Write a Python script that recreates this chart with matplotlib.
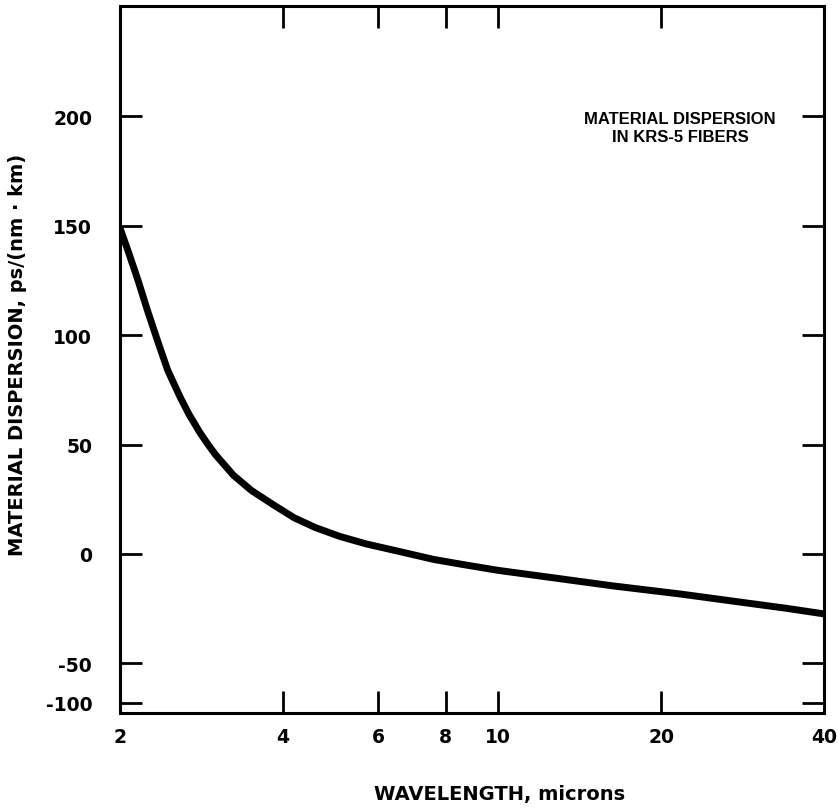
import matplotlib.pyplot as plt
from matplotlib.ticker import FixedLocator, FixedFormatter, NullLocator

# readings
wavelength = [2.0, 2.08, 2.16, 2.25, 2.35, 2.45, 2.58, 2.68, 2.81, 2.9, 3.0, 3.24, 3.5, 3.84, 4.2, 4.6, 5.1,
              5.7, 6.6, 7.6, 8.5, 10.0, 12.3, 16.3, 21.7, 28.0, 34.0, 40.0]
dispersion = [149, 137, 125, 111, 97, 84, 72, 64, 55.5, 50.5, 45.5, 36, 29, 22.5, 16.5, 12, 8,
              4.6, 1.0, -2.5, -4.6, -7.5, -10.5, -14.6, -18.3, -22, -24.8, -27.4]

x_ticks = [2, 4, 6, 8, 10, 20, 40]
x_labels = ['2', '4', '6', '8', '10', '20', '40']
# the original axis is squeezed below -50, the "-100" mark sits just above the frame
y_ticks = [200, 150, 100, 50, 0, -50, -68]
y_labels = ['200', '150', '100', '50', '0', '-50', '-100']

plt.rcParams['font.family'] = ['DejaVu Sans']
plt.rcParams['font.weight'] = 'bold'

fig = plt.figure(figsize=(8.38, 8.12), dpi=100)
ax = fig.add_axes([120/838, 1 - 714/812, 704/838, 707/812])

ax.plot(wavelength, dispersion, color='black', linewidth=5, solid_joinstyle='round', solid_capstyle='butt')

ax.set_xscale('log')
ax.set_xlim(2, 40)
ax.set_ylim(-72.7, 250.5)
ax.xaxis.set_major_locator(FixedLocator(x_ticks))
ax.xaxis.set_major_formatter(FixedFormatter(x_labels))
ax.xaxis.set_minor_locator(NullLocator())
ax.yaxis.set_major_locator(FixedLocator(y_ticks))
ax.yaxis.set_major_formatter(FixedFormatter(y_labels))

ax.tick_params(direction='in', length=16, width=2, top=True, right=True, labelsize=13.5, pad=10)
ax.tick_params(axis='y', pad=20)
for s in ax.spines.values():
    s.set_linewidth(2.2)

fig.text(680/838, 1 - 129/812, 'MATERIAL DISPERSION\nIN KRS-5 FIBERS', ha='center', va='center',
         fontsize=12, fontweight='bold', family='Liberation Sans', linespacing=1.25)

fig.text(500/838, 1 - 795/812, 'WAVELENGTH, microns', ha='center', va='center', fontsize=14, fontweight='bold')
fig.text(18/838, 1 - 355/812, 'MATERIAL DISPERSION, ps/(nm \u00b7 km)', ha='center', va='center',
         rotation=90, fontsize=14, fontweight='bold')

fig.savefig('out.png', dpi=100, facecolor='white')
